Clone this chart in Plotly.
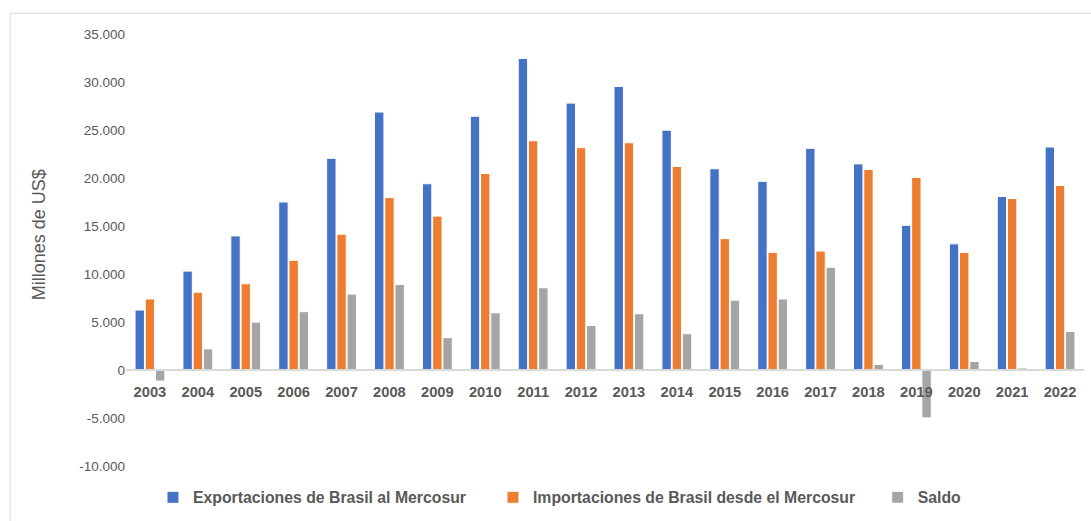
import plotly.graph_objects as go

years = [str(y) for y in range(2003, 2023)]
exportaciones = [6250, 10300, 13970, 17500, 22050, 26870, 19400, 26430, 32450, 27800,
                 29530, 24980, 20960, 19650, 23090, 21470, 15070, 13140, 18070, 23230]
importaciones = [7400, 8100, 8980, 11420, 14140, 17960, 16030, 20470, 23880, 23160,
                 23670, 21200, 13690, 12250, 12390, 20890, 20060, 12250, 17860, 19230]
saldo = [-1150, 2200, 4990, 6080, 7910, 8910, 3370, 5960, 8570, 4640,
         5860, 3780, 7270, 7400, 10700, 580, -4990, 890, 210, 4000]

names = ["Exportaciones de Brasil al Mercosur",
         "Importaciones de Brasil desde el Mercosur",
         "Saldo"]
colors = ["#4472C4", "#ED7D31", "#A5A5A5"]
series = [exportaciones, importaciones, saldo]

y_ticks = [-10000, -5000, 0, 5000, 10000, 15000, 20000, 25000, 30000, 35000]
y_ticktext = ["-10.000", "-5.000", "0", "5.000", "10.000", "15.000",
              "20.000", "25.000", "30.000", "35.000"]

FONT = "Arial, Liberation Sans, sans-serif"
TXT = "#595959"
NB = "\u00a0"
pad = [5, 4, 0]

fig = go.Figure()
for name, vals, col, p in zip(names, series, colors, pad):
    fig.add_trace(go.Bar(x=years, y=vals, name=name + NB * p,
                         marker=dict(color=col, line=dict(color="white", width=1))))

ymin, ymax = -10000, 35000
zero_frac = (0 - ymin) / (ymax - ymin)

fig.update_layout(
    width=1091, height=521,
    margin=dict(l=126, r=7, t=34, b=51),
    paper_bgcolor="white", plot_bgcolor="white",
    barmode="group", bargap=0.36, bargroupgap=0.08,
    font=dict(family=FONT, color=TXT, size=13),
    showlegend=True,
    legend=dict(orientation="h", x=0.453, xanchor="center", y=-0.073, yanchor="middle",
                font=dict(family=FONT, size=15.8, color=TXT, weight="bold"),
                itemwidth=30, traceorder="normal"),
    xaxis=dict(anchor="free", position=zero_frac, showline=True,
               linecolor="#D9D9D9", linewidth=1.5,
               ticks="", showgrid=False, ticklabelstandoff=9,
               tickfont=dict(family=FONT, size=14.7, color=TXT, weight="bold")),
    yaxis=dict(range=[ymin, ymax], tickvals=y_ticks, ticktext=y_ticktext,
               showgrid=False, zeroline=False,
               tickfont=dict(family=FONT, size=13.5, color=TXT),
               ticks="", showline=False),
    annotations=[
        dict(text="Millones de US$", textangle=-90, xref="paper", yref="paper",
             x=-0.0908, y=0.534, xanchor="center", yanchor="middle", showarrow=False,
             font=dict(family=FONT, size=18, color=TXT)),
    ],
    shapes=[
        dict(type="line", xref="paper", yref="paper", x0=-0.121, x1=-0.121, y0=1.048, y1=-0.2,
             line=dict(color="#D9D9D9", width=1)),
        dict(type="line", xref="paper", yref="paper", x0=-0.121, x1=1.01, y0=1.048, y1=1.048,
             line=dict(color="#D9D9D9", width=1)),
    ],
)

fig.write_html("out.html", config={"displayModeBar": False},
               post_script="document.body.style.margin='0';")
